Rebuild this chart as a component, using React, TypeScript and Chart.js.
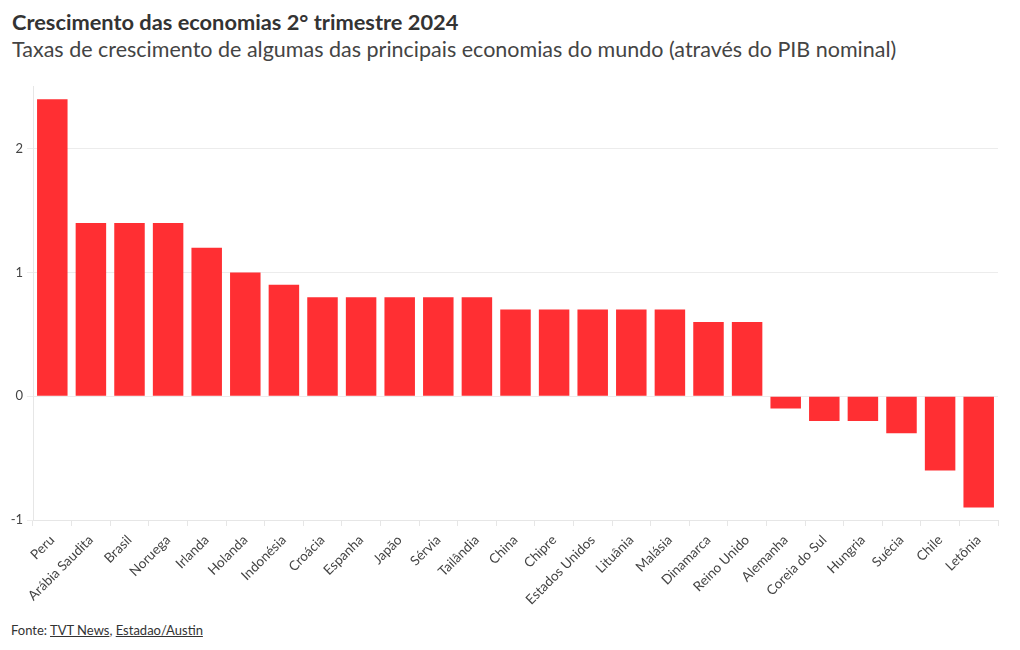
import React, { useEffect, useRef } from "react";
import { Chart, registerables } from "chart.js";

Chart.register(...registerables);

const countries = [
  "Peru", "Arábia Saudita", "Brasil", "Noruega", "Irlanda", "Holanda", "Indonésia",
  "Croácia", "Espanha", "Japão", "Sérvia", "Tailândia", "China", "Chipre",
  "Estados Unidos", "Lituânia", "Malásia", "Dinamarca", "Reino Unido", "Alemanha",
  "Coreia do Sul", "Hungria", "Suécia", "Chile", "Letônia",
];
const growth = [
  2.4, 1.4, 1.4, 1.4, 1.2, 1.0, 0.9,
  0.8, 0.8, 0.8, 0.8, 0.8, 0.7, 0.7,
  0.7, 0.7, 0.7, 0.6, 0.6, -0.1,
  -0.2, -0.2, -0.3, -0.6, -0.9,
];
const yTicks = [-1, 0, 1, 2];

const FONT = "Lato, 'Noto Sans', sans-serif";
const BAR = "#ff2f33";

export default function App() {
  const ref = useRef<HTMLCanvasElement | null>(null);
  useEffect(() => {
    if (!ref.current) return;
    const chart = new Chart(ref.current, {
      type: "bar",
      data: {
        labels: countries,
        datasets: [
          {
            data: growth,
            backgroundColor: BAR,
            borderWidth: 0,
            barPercentage: 0.79,
            categoryPercentage: 1,
          },
        ],
      },
      options: {
        animation: false,
        responsive: false,
        maintainAspectRatio: false,
        layout: { padding: { left: 0, right: 22, top: 0, bottom: 0 } },
        plugins: { legend: { display: false }, tooltip: { enabled: false } },
        scales: {
          x: {
            grid: { drawOnChartArea: false, drawTicks: true, tickLength: 6, color: "#e6e6e6" },
            border: { display: true, color: "#e6e6e6" },
            ticks: {
              color: "#444",
              font: { family: FONT, size: 13.5 },
              maxRotation: 45,
              minRotation: 45,
              autoSkip: false,
              padding: 6,
            },
            afterFit: (s: any) => { s.height = 100; },
          },
          y: {
            min: -1,
            max: 2.5,
            grid: { color: "#ececec", drawTicks: true, tickLength: 6 },
            border: { display: true, color: "#e6e6e6" },
            ticks: { color: "#444", font: { family: FONT, size: 13 }, padding: 4 },
            afterBuildTicks: (s: any) => { s.ticks = yTicks.map((v) => ({ value: v })); },
            afterFit: (s: any) => { s.width = 33; },
          },
        },
      },
    });
    return () => chart.destroy();
  }, []);

  return (
    <div style={{ position: "absolute", left: 0, top: 0, width: 1020, height: 650, background: "#fff", fontFamily: FONT, color: "#333" }}>
      <div style={{ position: "absolute", left: 12, top: 8, fontSize: 21.8, fontWeight: 700, color: "#333", whiteSpace: "nowrap" }}>
        Crescimento das economias 2° trimestre 2024
      </div>
      <div style={{ position: "absolute", left: 12, top: 36, fontSize: 21.5, color: "#444", whiteSpace: "nowrap" }}>
        Taxas de crescimento de algumas das principais economias do mundo (através do PIB nominal)
      </div>
      <canvas ref={ref} width={1020} height={545} style={{ position: "absolute", left: 0, top: 75, width: 1020, height: 545 }} />
      <div style={{ position: "absolute", left: 11, top: 622, fontSize: 13, color: "#333", whiteSpace: "nowrap" }}>
        Fonte: <span style={{ textDecoration: "underline" }}>TVT News</span>, <span style={{ textDecoration: "underline" }}>Estadao/Austin</span>
      </div>
    </div>
  );
}
